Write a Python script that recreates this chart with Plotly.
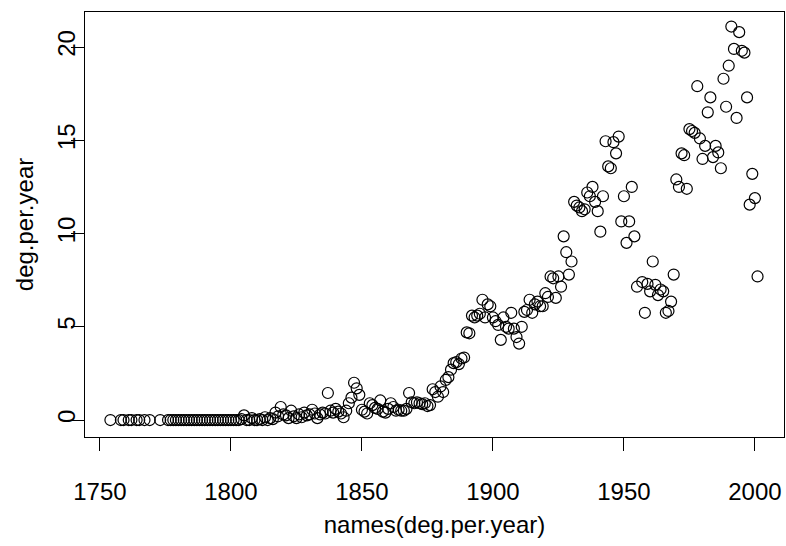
import plotly.graph_objects as go

# Years (names of deg.per.year) and values
years = [1754, 1758, 1759, 1761, 1762, 1764, 1765, 1767, 1769, 1773,
         1776, 1777, 1778, 1779, 1780, 1781, 1782, 1783, 1784, 1785,
         1786, 1787, 1788, 1789, 1790, 1791, 1792, 1793, 1794, 1795,
         1796, 1797, 1798, 1799, 1800, 1801, 1802, 1803, 1804, 1805,
         1806, 1807, 1808, 1809, 1810, 1811, 1812, 1813, 1814, 1815,
         1816, 1817, 1818, 1819, 1820, 1821, 1822, 1823, 1824, 1825,
         1826, 1827, 1828, 1829, 1830, 1831, 1832, 1833, 1834, 1835,
         1836, 1837, 1838, 1839, 1840, 1841, 1842, 1843, 1844, 1845,
         1846, 1847, 1848, 1849, 1850, 1851, 1852, 1853, 1854, 1855,
         1856, 1857, 1858, 1859, 1860, 1861, 1862, 1863, 1864, 1865,
         1866, 1867, 1868, 1869, 1870, 1871, 1872, 1873, 1874, 1875,
         1876, 1877, 1878, 1879, 1880, 1881, 1882, 1883, 1884, 1885,
         1886, 1887, 1888, 1889, 1890, 1891, 1892, 1893, 1894, 1895,
         1896, 1897, 1898, 1899, 1900, 1901, 1902, 1903, 1904, 1905,
         1906, 1907, 1908, 1909, 1910, 1911, 1912, 1913, 1914, 1915,
         1916, 1917, 1918, 1919, 1920, 1921, 1922, 1923, 1924, 1925,
         1926, 1927, 1928, 1929, 1930, 1931, 1932, 1933, 1934, 1935,
         1936, 1937, 1938, 1939, 1940, 1941, 1942, 1943, 1944, 1945,
         1946, 1947, 1948, 1949, 1950, 1951, 1952, 1953, 1954, 1955,
         1957, 1958, 1959, 1960, 1961, 1962, 1963, 1964, 1965, 1966,
         1967, 1968, 1969, 1970, 1971, 1972, 1973, 1974, 1975, 1976,
         1977, 1978, 1979, 1980, 1981, 1982, 1983, 1984, 1985, 1986,
         1987, 1988, 1989, 1990, 1991, 1992, 1993, 1994, 1995, 1996,
         1997, 1998, 1999, 2000, 2001, 2003]

deg_per_year = [0, 0, 0, 0, 0, 0, 0, 0, 0, 0,
                0, 0, 0, 0, 0, 0, 0, 0, 0, 0,
                0, 0, 0, 0, 0, 0, 0, 0, 0, 0,
                0, 0, 0, 0, 0, 0, 0, 0, 0.05, 0.25,
                0, 0, 0.1, 0, 0, 0.05, 0, 0.15, 0, 0.1,
                0.05, 0.4, 0.2, 0.7, 0.3, 0.25, 0.1, 0.5, 0.2, 0.1,
                0.3, 0.15, 0.4, 0.25, 0.3, 0.55, 0.35, 0.1, 0.3, 0.4,
                0.35, 1.45, 0.5, 0.4, 0.6, 0.45, 0.35, 0.15, 0.5, 0.9,
                1.2, 2.0, 1.7, 1.35, 0.55, 0.45, 0.35, 0.9, 0.8, 0.65,
                0.6, 1.05, 0.45, 0.4, 0.6, 0.9, 0.7, 0.5, 0.55, 0.5,
                0.5, 0.6, 1.45, 0.95, 0.9, 0.95, 0.9, 0.85, 0.9, 0.75,
                0.8, 1.65, 1.5, 1.25, 1.8, 1.5, 2.15, 2.3, 2.7, 3.05,
                3.1, 3.0, 3.3, 3.35, 4.7, 4.65, 5.6, 5.5, 5.6, 5.7,
                6.45, 5.5, 6.2, 6.1, 5.5, 5.3, 5.1, 4.3, 5.5, 5.0,
                4.9, 5.75, 4.9, 4.45, 4.1, 5.0, 5.8, 5.9, 6.45, 5.75,
                6.2, 6.35, 6.1, 6.1, 6.8, 6.6, 7.7, 7.6, 6.55, 7.7,
                7.15, 9.85, 9.0, 7.8, 8.5, 11.7, 11.5, 11.4, 11.2, 11.3,
                12.2, 12.0, 12.5, 11.7, 11.2, 10.1, 12.0, 14.95, 13.6, 13.5,
                14.9, 14.3, 15.2, 10.65, 12.0, 9.5, 10.65, 12.5, 9.85, 7.15,
                7.4, 5.75, 7.3, 6.9, 8.5, 7.25, 6.7, 7.0, 6.9, 5.75,
                5.85, 6.35, 7.8, 12.9, 12.5, 14.3, 14.2, 12.4, 15.6, 15.5,
                15.4, 17.9, 15.1, 14.0, 14.7, 16.5, 17.3, 14.1, 14.7, 14.35,
                13.5, 18.3, 16.8, 19.0, 21.1, 19.9, 16.2, 20.8, 19.8, 19.7,
                17.3, 11.55, 13.2, 11.9, 7.7]

x_ticks = [1750, 1800, 1850, 1900, 1950, 2000]
y_ticks = [0, 5, 10, 15, 20]

fig = go.Figure(go.Scatter(
    x=years, y=deg_per_year, mode="markers",
    marker=dict(symbol="circle-open", size=11, color="black",
                line=dict(width=1.2, color="black")),
    hoverinfo="x+y",
))

font_family = "Liberation Sans, Arial, Helvetica, sans-serif"

fig.update_layout(
    width=786, height=546,
    margin=dict(l=85, r=2, t=12, b=109),
    plot_bgcolor="white", paper_bgcolor="white",
    showlegend=False,
    font=dict(family=font_family, size=24, color="black"),
    xaxis=dict(
        range=[1744.3, 2011.1],
        tickmode="array", tickvals=x_ticks,
        ticktext=[str(v) for v in x_ticks],
        ticks="outside", ticklen=13, tickwidth=1, tickcolor="black",
        ticklabelstandoff=20,
        showline=True, linecolor="black", linewidth=1, mirror=True,
        showgrid=False, zeroline=False, automargin=False,
        title=dict(text="names(deg.per.year)", standoff=12,
                   font=dict(size=24)),
    ),
    yaxis=dict(
        range=[-0.91, 21.88],
        tickmode="array", tickvals=y_ticks,
        ticktext=[str(v) for v in y_ticks],
        tickangle=-90,
        ticks="outside", ticklen=13, tickwidth=1, tickcolor="black",
        ticklabelstandoff=-14,
        showline=True, linecolor="black", linewidth=1, mirror=True,
        showgrid=False, zeroline=False, automargin=False,
        title=dict(text="deg.per.year", standoff=13,
                   font=dict(size=24)),
    ),
)

fig.write_html("out.html",
               config={"displayModeBar": False},
               post_script="document.body.style.margin='0px';")
